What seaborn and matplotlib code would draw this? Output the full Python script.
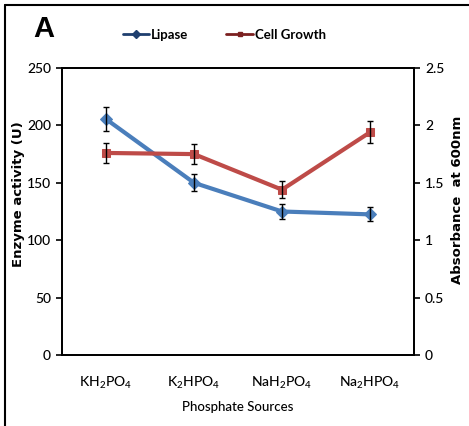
import numpy as np
import pandas as pd
import matplotlib
matplotlib.use("Agg")
import matplotlib.pyplot as plt
import seaborn as sns
from matplotlib.lines import Line2D

categories = ["KH$_2$PO$_4$", "K$_2$HPO$_4$", "NaH$_2$PO$_4$", "Na$_2$HPO$_4$"]
lipase = [205.5, 150.0, 125.0, 122.5]
lipase_err = [10.5, 7.5, 6.5, 6.0]
growth = [1.76, 1.75, 1.44, 1.94]
growth_err = [0.087, 0.085, 0.074, 0.096]
left_ticks = [0, 50, 100, 150, 200, 250]
right_ticks = [0, 0.5, 1, 1.5, 2, 2.5]
right_tick_labels = ["0", "0.5", "1", "1.5", "2", "2.5"]

sns.set_style("white")
plt.rcParams["font.family"] = ["Lato", "DejaVu Sans"]
plt.rcParams["mathtext.default"] = "regular"
plt.rcParams["text.color"] = "black"
plt.rcParams["axes.labelcolor"] = "black"
plt.rcParams["xtick.color"] = "black"
plt.rcParams["ytick.color"] = "black"

blue = "#4A7EBB"
red = "#BE4B48"

fig = plt.figure(figsize=(4.69, 4.26), dpi=100)
W, H = 469, 426
ax = fig.add_axes([62 / W, 1 - 355 / H, (414 - 62) / W, (355 - 68) / H])
ax2 = ax.twinx()

pos = np.arange(len(categories))
df = pd.DataFrame({"pos": pos, "lipase": lipase, "growth": growth})

sns.lineplot(data=df, x="pos", y="lipase", ax=ax, color=blue, lw=3.0,
             marker="D", markersize=6.5, markeredgecolor=blue, zorder=3)
ax.errorbar(pos, lipase, yerr=lipase_err, fmt="none", ecolor="black",
            elinewidth=1.0, capsize=2.0, capthick=1.0, zorder=4)

sns.lineplot(data=df, x="pos", y="growth", ax=ax2, color=red, lw=3.0,
             marker="s", markersize=6, markeredgecolor=red, zorder=3)
ax2.errorbar(pos, growth, yerr=growth_err, fmt="none", ecolor="black",
             elinewidth=1.0, capsize=2.0, capthick=1.0, zorder=4)

ax.set_xlim(-0.5, len(categories) - 0.5)
ax.set_ylim(0, 250)
ax2.set_ylim(0, 2.5)

tick_font = {"family": ["Lato", "DejaVu Sans"], "size": 10, "weight": "medium"}

ax.set_xticks(pos)
ax.set_xticklabels(categories, **tick_font)
ax.set_xticks(np.arange(-0.5, len(categories)), minor=True)
ax.tick_params(axis="x", which="major", length=0, pad=14)
ax.tick_params(axis="x", which="minor", length=4, width=1.2, direction="out", color="black")

ax.set_yticks(left_ticks)
ax.set_yticklabels([str(t) for t in left_ticks], **tick_font)
ax.tick_params(axis="y", length=4, width=1.2, direction="out", left=True, color="black", pad=4)

ax2.set_yticks(right_ticks)
ax2.set_yticklabels(right_tick_labels, **tick_font)
ax2.tick_params(axis="y", length=4, width=1.2, direction="out", right=True, color="black", pad=4)

for a in (ax, ax2):
    for s in a.spines.values():
        s.set_visible(True)
        s.set_color("black")
        s.set_linewidth(1.3)
    a.grid(False)

ax.set_xlabel("Phosphate Sources", fontsize=9.5, family=["Lato", "DejaVu Sans"],
              fontweight="medium")
ax.xaxis.set_label_coords(0.5, -0.16)
ax.set_ylabel("Enzyme activity (U)", fontsize=9.5, fontweight="bold",
              family=["DejaVu Sans"])
ax.yaxis.set_label_coords(-0.105, 0.56)
ax2.set_ylabel("Absorbance  at 600nm", fontsize=9.5, fontweight="bold",
               family=["DejaVu Sans"], rotation=90)
ax2.yaxis.set_label_coords(1.105, 0.54)

handles = [Line2D([], [], color="#1F3F6F", lw=2, marker="D", markersize=4),
           Line2D([], [], color="#7B2020", lw=2, marker="s", markersize=3.5)]
fig.legend(handles, ["Lipase", "Cell Growth"], loc="center",
           bbox_to_anchor=(0.478, 1 - 35 / H), ncol=2, frameon=False,
           handlelength=2.0, handletextpad=0.15, columnspacing=2.9,
           prop={"family": ["Lato", "DejaVu Sans"], "weight": "bold", "size": 9.5})

fig.text(43.5 / W, 1 - 29 / H, "A", fontsize=21, fontweight="bold",
         family=["Liberation Sans", "DejaVu Sans"], ha="center", va="center")

fig.add_artist(Line2D([5 / W, 1], [1 - 4.5 / H, 1 - 4.5 / H], color="black", lw=1.5,
                      transform=fig.transFigure))
fig.add_artist(Line2D([5 / W, 5 / W], [0, 1 - 4.5 / H], color="black", lw=1.5,
                      transform=fig.transFigure))

fig.savefig("out.png", dpi=100)
